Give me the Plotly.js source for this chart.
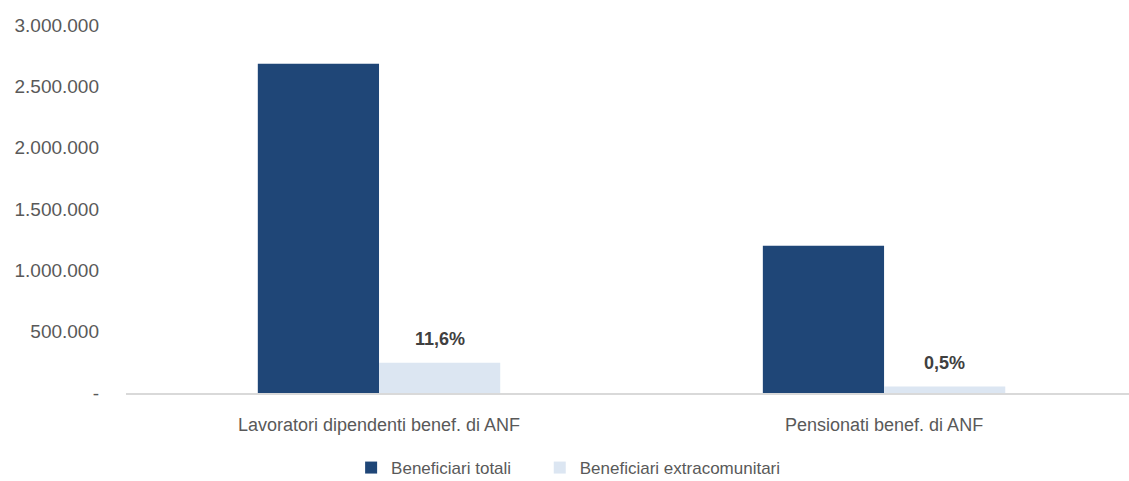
<!DOCTYPE html>
<html>
<head>
<meta charset="utf-8">
<script src="https://cdn.plot.ly/plotly-3.0.1.min.js"></script>
<style>html,body{margin:0;padding:0;background:#fff;}#chart{width:1129px;height:481px;}</style>
</head>
<body>
<div id="chart"></div>
<script>
const categories = ["Lavoratori dipendenti benef. di ANF", "Pensionati benef. di ANF"];
const seriesNames = ["Beneficiari totali", "Beneficiari extracomunitari"];
const totali = [2685000, 1200000];
const extracomunitari = [247000, 52000];
const percentLabels = ["11,6%", "0,5%"];
const yTickVals = [0, 500000, 1000000, 1500000, 2000000, 2500000, 3000000];
const yTickText = ["-", "500.000", "1.000.000", "1.500.000", "2.000.000", "2.500.000", "3.000.000"];

const FONT = '"Liberation Sans Narrow", "Arial Narrow", "Liberation Sans", Arial, sans-serif';
const bargap = 0.52;
const barW = (1 - bargap) / 2;
const pad = '\u00a0'.repeat(5);

const traces = [
  {type: 'bar', name: seriesNames[0] + pad, x: categories, y: totali,
   marker: {color: '#1f4677', line: {width: 0}}, hoverinfo: 'none'},
  {type: 'bar', name: seriesNames[1], x: categories, y: extracomunitari,
   marker: {color: '#dce6f2', line: {width: 0}}, hoverinfo: 'none'}
];

const annotations = categories.map((c, i) => ({
  x: i + barW / 2, xref: 'x', y: extracomunitari[i], yref: 'y',
  text: '<b>' + percentLabels[i] + '</b>', showarrow: false,
  yanchor: 'bottom', yshift: 12,
  font: {family: FONT, size: 18, color: '#404040'}
}));

const layout = {
  width: 1129, height: 481,
  margin: {l: 126, r: 0, t: 25, b: 88},
  paper_bgcolor: '#fff', plot_bgcolor: '#fff',
  barmode: 'group', bargap: bargap, bargroupgap: 0,
  xaxis: {type: 'category', range: [-0.501, 1.485], showgrid: false, automargin: false,
          showline: true, linecolor: '#d9d9d9', linewidth: 2, ticks: '',
          tickfont: {family: FONT, size: 18, color: '#595959'}, ticklabelstandoff: 14},
  yaxis: {range: [0, 3000000], tickvals: yTickVals, ticktext: yTickText, automargin: false,
          showgrid: false, zeroline: false, showline: false, ticks: '',
          tickfont: {family: FONT, size: 19, color: '#595959'}, ticklabelstandoff: 26},
  showlegend: true,
  legend: {orientation: 'h', x: 0.311, xref: 'container', xanchor: 'left',
           y: 0.027, yref: 'container', yanchor: 'middle',
           font: {family: FONT, size: 17, color: '#595959'}, itemwidth: 30, traceorder: 'normal'},
  annotations: annotations
};

Plotly.newPlot('chart', traces, layout, {displayModeBar: false, staticPlot: true});
</script>
</body>
</html>
